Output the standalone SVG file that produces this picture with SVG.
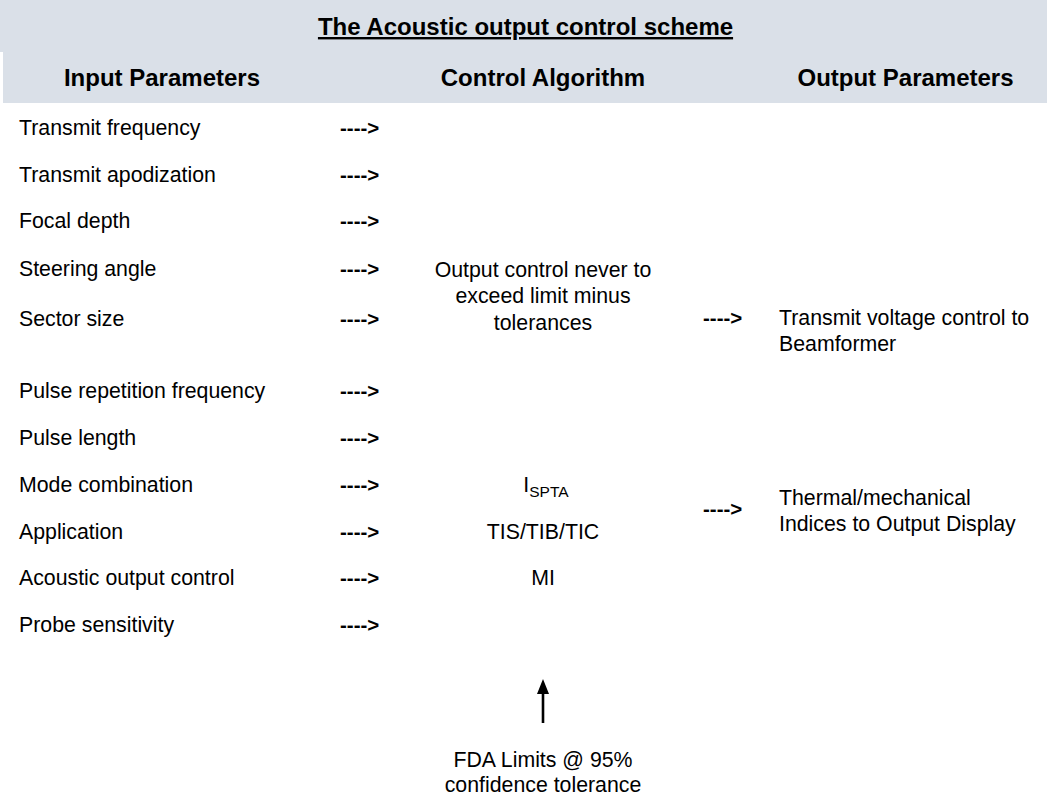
<svg xmlns="http://www.w3.org/2000/svg" width="1047" height="798" viewBox="0 0 1047 798">
<style>
  text { font-family: "Liberation Sans", Arial, sans-serif; fill: #000; }
  .hdr { font-size: 24px; font-weight: bold; }
  .t { font-size: 21.3px; }
  .arr { font-size: 20.5px; font-weight: bold; }
  .mid { font-size: 21.3px; text-anchor: middle; }
  .band { fill: #dae0e8; }
</style>
<rect width="1047" height="798" fill="#fff"/>
<g id="header">
  <rect class="band" x="0" y="0" width="1047" height="52"/>
  <rect class="band" x="3" y="52" width="1044" height="51"/>
  <text class="hdr" x="525.5" y="35" text-anchor="middle" text-decoration="underline">The Acoustic output control scheme</text>
  <text class="hdr" x="162" y="86" text-anchor="middle">Input Parameters</text>
  <text class="hdr" x="543" y="86" text-anchor="middle">Control Algorithm</text>
  <text class="hdr" x="905.5" y="86" text-anchor="middle">Output Parameters</text>
</g>
<g id="inputs">
  <text class="t" x="19" y="135">Transmit frequency</text>
  <text class="t" x="19" y="182">Transmit apodization</text>
  <text class="t" x="19" y="228">Focal depth</text>
  <text class="t" x="19" y="276">Steering angle</text>
  <text class="t" x="19" y="326">Sector size</text>
  <text class="t" x="19" y="398">Pulse repetition frequency</text>
  <text class="t" x="19" y="445">Pulse length</text>
  <text class="t" x="19" y="492">Mode combination</text>
  <text class="t" x="19" y="539">Application</text>
  <text class="t" x="19" y="585">Acoustic output control</text>
  <text class="t" x="19" y="632">Probe sensitivity</text>
</g>
<g id="connectors">
  <text class="arr" x="340" y="135">----&gt;</text>
  <text class="arr" x="340" y="182">----&gt;</text>
  <text class="arr" x="340" y="228">----&gt;</text>
  <text class="arr" x="340" y="276">----&gt;</text>
  <text class="arr" x="340" y="326">----&gt;</text>
  <text class="arr" x="340" y="398">----&gt;</text>
  <text class="arr" x="340" y="445">----&gt;</text>
  <text class="arr" x="340" y="492">----&gt;</text>
  <text class="arr" x="340" y="539">----&gt;</text>
  <text class="arr" x="340" y="585">----&gt;</text>
  <text class="arr" x="340" y="632">----&gt;</text>
  <text class="arr" x="703" y="325">----&gt;</text>
  <text class="arr" x="703" y="516">----&gt;</text>
  <line x1="543" y1="723" x2="543" y2="692" stroke="#000" stroke-width="2.6"/>
  <polygon points="543,679 549,694 537,694" fill="#000"/>
</g>
<g id="algorithm">
  <text class="mid" x="543" y="277">Output control never to</text>
  <text class="mid" x="543" y="303">exceed limit minus</text>
  <text class="mid" x="543" y="330">tolerances</text>
</g>
<g id="indices">
  <text class="mid" x="546" y="492">I<tspan font-size="15.5" dy="5">SPTA</tspan></text>
  <text class="mid" x="543" y="539">TIS/TIB/TIC</text>
  <text class="mid" x="543" y="585">MI</text>
</g>
<g id="out-voltage">
  <text class="t" x="779" y="325">Transmit voltage control to</text>
  <text class="t" x="779" y="351">Beamformer</text>
</g>
<g id="out-indices">
  <text class="t" x="779" y="505">Thermal/mechanical</text>
  <text class="t" x="779" y="531">Indices to Output Display</text>
</g>
<g id="fda">
  <text class="mid" x="543" y="767">FDA Limits @ 95%</text>
  <text class="mid" x="543" y="792">confidence tolerance</text>
</g>
</svg>
